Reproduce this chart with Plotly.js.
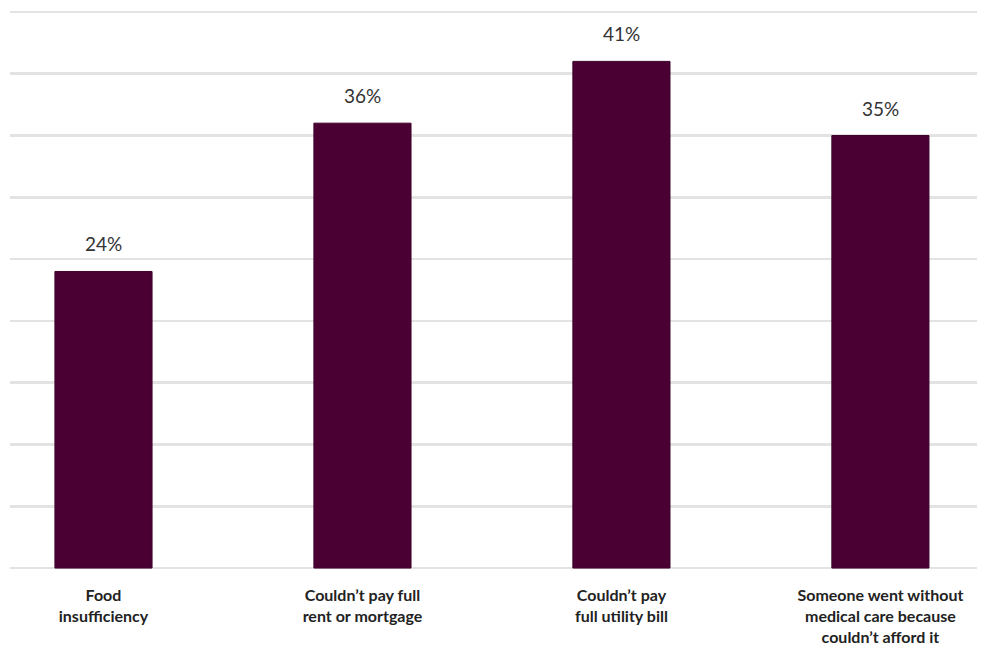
<!DOCTYPE html>
<html>
<head>
<meta charset="utf-8">
<script src="https://cdn.plot.ly/plotly-3.0.1.min.js"></script>
<style>html,body{margin:0;padding:0;background:#fff;}#chart{width:989px;height:654px;}</style>
</head>
<body>
<div id="chart"></div>
<script>
const categories = [
  "Food<br>insufficiency",
  "Couldn’t pay full<br>rent or mortgage",
  "Couldn’t pay<br>full utility bill",
  "Someone went without<br>medical care because<br>couldn’t afford it"
];
const values = [24, 36, 41, 35];
const valueLabels = ["24%", "36%", "41%", "35%"];
const yTicks = [0, 5, 10, 15, 20, 25, 30, 35, 40, 45];

const trace = {
  type: "bar",
  x: categories,
  y: values,
  marker: {color: "#4b0034", line: {color: "#3d002a", width: 1}},
  width: 0.375,
  hoverinfo: "none"
};

const annotations = values.map((v, i) => ({
  x: categories[i], y: v, xref: "x", yref: "y",
  text: valueLabels[i], showarrow: false,
  yanchor: "bottom", yshift: 14,
  font: {family: "Lato, 'Noto Sans', sans-serif", size: 19, color: "#333333"}
}));

const layout = {
  width: 989, height: 654,
  margin: {l: 10, r: 12, t: 7, b: 81},
  paper_bgcolor: "#ffffff", plot_bgcolor: "#ffffff",
  showlegend: false,
  xaxis: {
    range: [-0.361, 3.373],
    showgrid: false, zeroline: false, showline: false,
    ticks: "outside", ticklen: 8, tickcolor: "rgba(0,0,0,0)",
    tickfont: {family: "Lato, 'Noto Sans', sans-serif", size: 16, color: "#222222", weight: "bold"},
    fixedrange: true
  },
  yaxis: {
    range: [-0.4, 45.4],
    tickvals: yTicks,
    showticklabels: false,
    showgrid: true, gridcolor: "#e3e3e3", gridwidth: 2.5,
    zeroline: false, showline: false,
    fixedrange: true
  },
  annotations: annotations
};

Plotly.newPlot("chart", [trace], layout, {displayModeBar: false, staticPlot: true});
</script>
</body>
</html>
